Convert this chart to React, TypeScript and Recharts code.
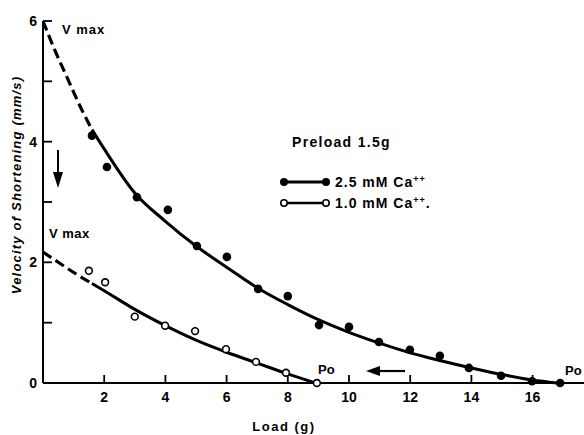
import { ComposedChart, Line, Scatter, XAxis, YAxis } from 'recharts'

// measured points, 2.5 mM Ca++ (filled)
const HIGH_LOAD = [1.6, 2.09, 3.07, 4.08, 5.03, 6.01, 7.03, 8.0, 9.02, 10.0, 10.98, 11.99, 12.97, 13.92, 14.97, 15.98, 16.9]
const HIGH_VEL = [4.1, 3.58, 3.08, 2.87, 2.27, 2.09, 1.56, 1.44, 0.96, 0.93, 0.68, 0.55, 0.45, 0.25, 0.12, 0.03, 0.0]

// measured points, 1.0 mM Ca++ (open)
const LOW_LOAD = [1.5, 2.03, 3.0, 3.99, 4.97, 5.98, 6.96, 7.94, 8.95]
const LOW_VEL = [1.86, 1.67, 1.1, 0.95, 0.86, 0.56, 0.35, 0.17, 0.0]

// fitted curves
const HIGH_DASH_X = [0, 0.4, 0.8, 1.2, 1.6]
const HIGH_DASH_Y = [6.0, 5.5, 5.05, 4.6, 4.2]
const HIGH_FIT_X = [1.6, 2, 3, 4, 5, 6, 7, 8, 9, 10, 11, 12, 13, 14, 15, 16, 16.8]
const HIGH_FIT_Y = [4.2, 3.88, 3.15, 2.68, 2.27, 1.92, 1.58, 1.3, 1.05, 0.84, 0.66, 0.5, 0.37, 0.25, 0.14, 0.05, 0]

const LOW_DASH_X = [0, 0.56, 1.1, 1.6]
const LOW_DASH_Y = [2.17, 1.98, 1.8, 1.65]
const LOW_FIT_X = [1.6, 2, 3, 4, 5, 6, 7, 8, 8.9]
const LOW_FIT_Y = [1.65, 1.53, 1.22, 0.95, 0.71, 0.51, 0.33, 0.15, 0]

const X_TICKS = [2, 4, 6, 8, 10, 12, 14, 16]
const Y_TICKS = [0, 1, 2, 3, 4, 5, 6]

const zip = (xs: number[], ys: number[]) => xs.map((x, i) => ({ x, y: ys[i] }))

const FONT = '"Liberation Sans", Arial, sans-serif'

function XTick(props: any) {
  const { x, y, payload } = props
  return (
    <g>
      <line x1={x} x2={x} y1={y} y2={y - 8} stroke="#000" strokeWidth={1.8} />
      <text x={x} y={y + 19} textAnchor="middle" fontFamily={FONT} fontWeight={700} fontSize={14} fill="#000">
        {payload.value}
      </text>
    </g>
  )
}

function YTick(props: any) {
  const { x, y, payload } = props
  return (
    <g>
      <line x1={x} x2={x + 9} y1={y} y2={y} stroke="#000" strokeWidth={1.8} />
      {payload.value % 2 === 0 && (
        <text x={x - 6} y={y + 5} textAnchor="end" fontFamily={FONT} fontWeight={700} fontSize={14} fill="#000">
          {payload.value}
        </text>
      )}
    </g>
  )
}

const FilledDot = (p: any) => <circle cx={p.cx} cy={p.cy} r={4.3} fill="#000" />
const OpenDot = (p: any) => <circle cx={p.cx} cy={p.cy} r={3.4} fill="#fff" stroke="#000" strokeWidth={1.6} />

export default function App() {
  const txt = { fontFamily: FONT, fontWeight: 700, fill: '#000' } as const
  return (
    <div style={{ position: 'relative', width: 584, height: 435, background: '#fff' }}>
      <style>{'body{margin:0}'}</style>
      <ComposedChart width={584} height={435} margin={{ top: 21, right: 0, left: 0, bottom: 0 }}>
        <XAxis
          type="number"
          dataKey="x"
          domain={[0, 17.68]}
          ticks={X_TICKS}
          allowDataOverflow
          height={52}
          tickSize={0}
          tickMargin={0}
          tickLine={false}
          axisLine={{ stroke: '#000', strokeWidth: 2 }}
          tick={<XTick />}
        />
        <YAxis
          type="number"
          dataKey="y"
          domain={[0, 6]}
          ticks={Y_TICKS}
          width={43}
          tickSize={0}
          tickMargin={0}
          tickLine={false}
          axisLine={{ stroke: '#000', strokeWidth: 2 }}
          tick={<YTick />}
        />
        <Line data={zip(HIGH_DASH_X, HIGH_DASH_Y)} dataKey="y" type="monotone" stroke="#000" strokeWidth={3.2} strokeDasharray="10 5" dot={false} isAnimationActive={false} />
        <Line data={zip(HIGH_FIT_X, HIGH_FIT_Y)} dataKey="y" type="monotone" stroke="#000" strokeWidth={3} dot={false} isAnimationActive={false} />
        <Line data={zip(LOW_DASH_X, LOW_DASH_Y)} dataKey="y" type="monotone" stroke="#000" strokeWidth={3.2} strokeDasharray="10 5" dot={false} isAnimationActive={false} />
        <Line data={zip(LOW_FIT_X, LOW_FIT_Y)} dataKey="y" type="monotone" stroke="#000" strokeWidth={3} dot={false} isAnimationActive={false} />
        <Scatter data={zip(HIGH_LOAD, HIGH_VEL)} dataKey="y" shape={FilledDot} isAnimationActive={false} />
        <Scatter data={zip(LOW_LOAD, LOW_VEL)} dataKey="y" shape={OpenDot} isAnimationActive={false} />
      </ComposedChart>

      <svg width={584} height={435} style={{ position: 'absolute', left: 0, top: 0, pointerEvents: 'none' }}>
        <text x={18} y={185} transform="rotate(-90 18 185)" textAnchor="middle" dominantBaseline="middle" fontSize={13} fontStyle="italic" letterSpacing={1.2} {...txt}>
          Velocity of Shortening (mm/s)
        </text>
        <text x={284} y={431} textAnchor="middle" fontSize={13} letterSpacing={1.5} {...txt}>Load (g)</text>

        <text x={62} y={34} fontSize={13} letterSpacing={1} {...txt}>V max</text>
        <text x={49} y={238} fontSize={13} letterSpacing={0.5} {...txt}>V max</text>
        <line x1={58} y1={150} x2={58} y2={180} stroke="#000" strokeWidth={2} />
        <path d="M53,172 L58,188 L63,172 Z" fill="#000" />

        <text x={292} y={147} fontSize={14} letterSpacing={1.3} {...txt}>Preload 1.5g</text>
        <line x1={283} y1={182} x2={326} y2={182} stroke="#000" strokeWidth={3} />
        <circle cx={284} cy={182} r={4} fill="#000" />
        <circle cx={326} cy={182} r={4} fill="#000" />
        <text x={335} y={187} fontSize={14} letterSpacing={1} {...txt}>
          2.5 mM Ca<tspan fontSize={9} dy={-5}>++</tspan>
        </text>
        <line x1={284} y1={203} x2={326} y2={203} stroke="#000" strokeWidth={2.5} />
        <circle cx={284} cy={203} r={3.2} fill="#fff" stroke="#000" strokeWidth={1.6} />
        <circle cx={326} cy={203} r={3.2} fill="#fff" stroke="#000" strokeWidth={1.6} />
        <text x={335} y={208} fontSize={14} letterSpacing={1} {...txt}>
          1.0 mM Ca<tspan fontSize={9} dy={-5}>++</tspan><tspan dy={5}>.</tspan>
        </text>

        <text x={318} y={374} fontSize={13} {...txt}>Po</text>
        <line x1={375} y1={371} x2={405} y2={371} stroke="#000" strokeWidth={2.2} />
        <path d="M366,371 L380,366 L380,376 Z" fill="#000" />
        <text x={565} y={375} fontSize={13} {...txt}>Po</text>
      </svg>
    </div>
  )
}
